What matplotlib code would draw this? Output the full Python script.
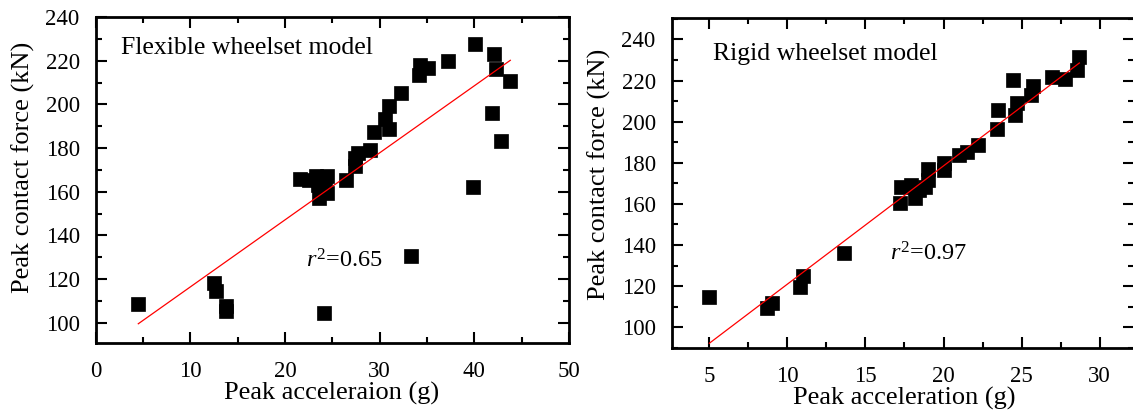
import matplotlib
matplotlib.use("Agg")
import matplotlib.pyplot as plt
from matplotlib.ticker import MultipleLocator
import numpy as np

plt.rcParams['font.family'] = ['Liberation Serif', 'DejaVu Serif']
plt.rcParams['mathtext.fontset'] = 'custom'
plt.rcParams['mathtext.rm'] = 'Liberation Serif'
plt.rcParams['mathtext.it'] = 'Liberation Serif:italic'

# ---- Flexible wheelset model (left panel) ----
flex_acc = [4.5, 12.5, 12.7, 13.8, 13.8,
            21.6, 22.5, 23.3, 23.5, 23.6, 24.0, 24.4, 24.4, 24.2,
            24.1,
            26.4, 27.4, 27.4, 27.7, 29.0, 29.4, 30.6, 31.0, 31.0, 32.3,
            33.3,
            34.2, 34.3, 35.1, 37.2,
            39.9, 40.1, 42.1, 42.3, 41.9, 42.8, 43.8]
flex_force = [108.5, 118.3, 114.7, 107.5, 105.5,
              165.7, 165.5, 167.2, 163.0, 157.0, 161.0, 167.2, 159.2, 165.0,
              104.3,
              165.3, 171.7, 175.3, 177.8, 179.1, 187.5, 193.1, 199.2, 188.5, 205.0,
              130.5,
              213.4, 217.8, 216.8, 219.8,
              162.3, 227.6, 222.9, 216.0, 195.9, 183.2, 210.7]
flex_fit = (3.07, 85.7)   # slope, intercept
flex_r2 = "0.65"

# ---- Rigid wheelset model (right panel) ----
rigid_acc = [5.0, 8.7, 9.0, 10.8, 11.0, 13.6,
             17.2, 17.3, 17.9, 18.2, 18.4, 18.8, 19.0, 19.0, 20.0, 20.0, 21.0, 21.5, 22.2,
             23.4, 23.5, 24.6, 24.7, 24.45, 25.6, 25.7, 26.95, 27.8, 28.55, 28.7]
rigid_force = [114.8, 109.3, 111.7, 119.5, 124.8, 136.3,
               160.5, 168.4, 169.2, 162.7, 166.7, 168.4, 171.6, 176.8, 176.5, 180.0, 183.8, 185.4, 188.6,
               196.3, 205.6, 203.2, 208.9, 220.2, 212.9, 217.3, 221.8, 220.6, 225.1, 231.3]
rigid_fit = (5.75, 63.5)
rigid_r2 = "0.97"

W, H = 1133, 411
fig = plt.figure(figsize=(W / 100, H / 100), dpi=100)

ax1 = fig.add_axes([95.7 / W, 1 - 343 / H, 473.3 / W, 326 / H])
ax2 = fig.add_axes([671.7 / W, 1 - 348.3 / H, 462.3 / W, 330.3 / H])

def style(ax, xmaj, xmin, ymaj, ymin):
    ax.xaxis.set_major_locator(MultipleLocator(xmaj))
    ax.xaxis.set_minor_locator(MultipleLocator(xmin))
    ax.yaxis.set_major_locator(MultipleLocator(ymaj))
    ax.yaxis.set_minor_locator(MultipleLocator(ymin))
    ax.tick_params(which='both', direction='in', top=True, right=True,
                   width=1.5, labelsize=16.5)
    ax.tick_params(which='major', length=8)
    ax.tick_params(which='minor', length=4.5)
    ax.tick_params(axis='x', pad=13)
    ax.tick_params(axis='y', pad=11.5)
    for s in ax.spines.values():
        s.set_linewidth(2)

def panel(ax, acc, force, fit, r2, title, tpos, rpos):
    acc = np.asarray(acc)
    ax.plot(acc, force, 's', color='black', ms=10, mew=0.5, zorder=3)
    xs = np.array([acc.min(), acc.max()])
    ax.plot(xs, fit[0] * xs + fit[1], color='red', lw=0.9, zorder=4)
    ax.text(tpos[0], tpos[1], title, transform=ax.transAxes, fontsize=18.5,
            va='baseline', ha='left')
    ax.text(rpos[0], rpos[1], r'$r^{2}$=' + r2, fontsize=17.5,
            va='baseline', ha='left')

panel(ax1, flex_acc, flex_force, flex_fit, flex_r2, 'Flexible wheelset model',
      (0.053, 0.887), (22.2, 125.4))
panel(ax2, rigid_acc, rigid_force, rigid_fit, rigid_r2, 'Rigid wheelset model',
      (0.0887, 0.873), (16.54, 132.7))

ax1.set_xlim(0, 50)
ax1.set_ylim(90.7, 240)
ax2.set_xlim(2.59, 32.2)
ax2.set_ylim(89.8, 250.4)

style(ax1, 10, 5, 20, 10)
style(ax2, 5, 2.5, 20, 10)

# axis labels
ax1.set_xlabel('Peak acceleraion (g)', fontsize=19)
ax1.xaxis.set_label_coords(332 / W, 1 - 400 / H, transform=fig.transFigure)
ax1.xaxis.label.set_va('baseline')
ax2.set_xlabel('Peak acceleration (g)', fontsize=19)
ax2.xaxis.set_label_coords(904 / W, 1 - 405 / H, transform=fig.transFigure)
ax2.xaxis.label.set_va('baseline')

ax1.set_ylabel('Peak contact force (kN)', fontsize=19)
ax1.yaxis.set_label_coords(22.8 / W, 1 - 167 / H, transform=fig.transFigure)
ax1.yaxis.label.set_va('center')
ax2.set_ylabel('Peak contact force (kN)', fontsize=19)
ax2.yaxis.set_label_coords(599 / W, 1 - 174 / H, transform=fig.transFigure)
ax2.yaxis.label.set_va('center')

fig.savefig('out.png', dpi=100)
